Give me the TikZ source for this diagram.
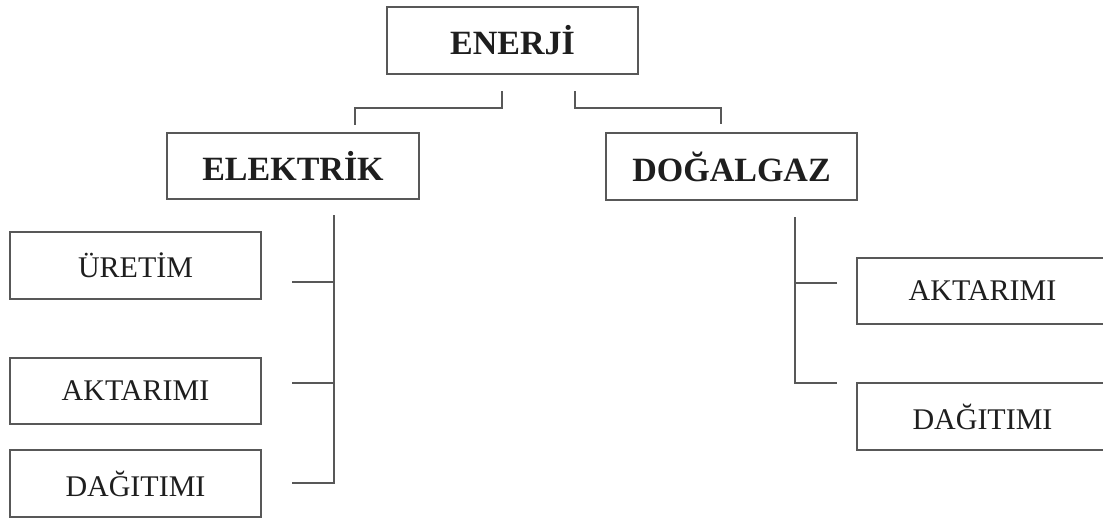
\documentclass[tikz,border=0pt]{standalone}
\usepackage{fontspec}
\setmainfont{Liberation Serif}
\definecolor{linegray}{RGB}{88,88,88}
\definecolor{textblack}{RGB}{30,30,30}
\begin{document}
\begin{tikzpicture}[x=1pt,y=-1pt,
  box/.style={draw=linegray, line width=2.2pt, inner sep=0pt, minimum width=251pt, minimum height=67pt, text=textblack, font=\fontsize{30}{36}\selectfont},
  headbox/.style={box, font=\fontsize{34}{40}\selectfont\bfseries},
  conn/.style={draw=linegray, line width=2.2pt}]
\useasboundingbox (0,0) rectangle (1103,520);
\fill[white] (0,0) rectangle (1103,520);
\node[headbox] (enerji) at (512.5,40.5) {ENERJİ};
\node[headbox, minimum width=252pt, minimum height=66pt] (elek) at (293,166) {ELEKTRİK};
\node[headbox] (dogal) at (731.5,166.5) {DOĞALGAZ};
\node[box] (uretim) at (135.5,265.5) {ÜRETİM};
\node[box, minimum height=66pt] (aktL) at (135.5,391) {AKTARIMI};
\node[box] (dagL) at (135.5,483.5) {DAĞITIMI};
\node[box, minimum height=66pt] (aktR) at (982.5,291) {AKTARIMI};
\node[box] (dagR) at (982.5,416.5) {DAĞITIMI};
% connector coordinates
\coordinate (e1) at (502,91);
\coordinate (e2) at (355,125);
\coordinate (d1) at (575,91);
\coordinate (d2) at (721,124);
\coordinate (el1) at (334,215);
\coordinate (el2) at (292,483);
\coordinate (elu) at (292,282);
\coordinate (ela) at (292,383);
\coordinate (dg1) at (795,217);
\coordinate (dg2) at (837,383);
\coordinate (dga) at (837,283);
\draw[conn] (e1) -- (e1 |- 0,108) -- (e2 |- 0,108) -- (e2);
\draw[conn] (d1) -- (d1 |- 0,108) -- (d2 |- 0,108) -- (d2);
\draw[conn] (el1) -- (el1 |- el2) -- (el2);
\draw[conn] (elu) -- (elu -| el1);
\draw[conn] (ela) -- (ela -| el1);
\draw[conn] (dg1) -- (dg1 |- dg2) -- (dg2);
\draw[conn] (dga) -- (dga -| dg1);
\end{tikzpicture}
\end{document}
